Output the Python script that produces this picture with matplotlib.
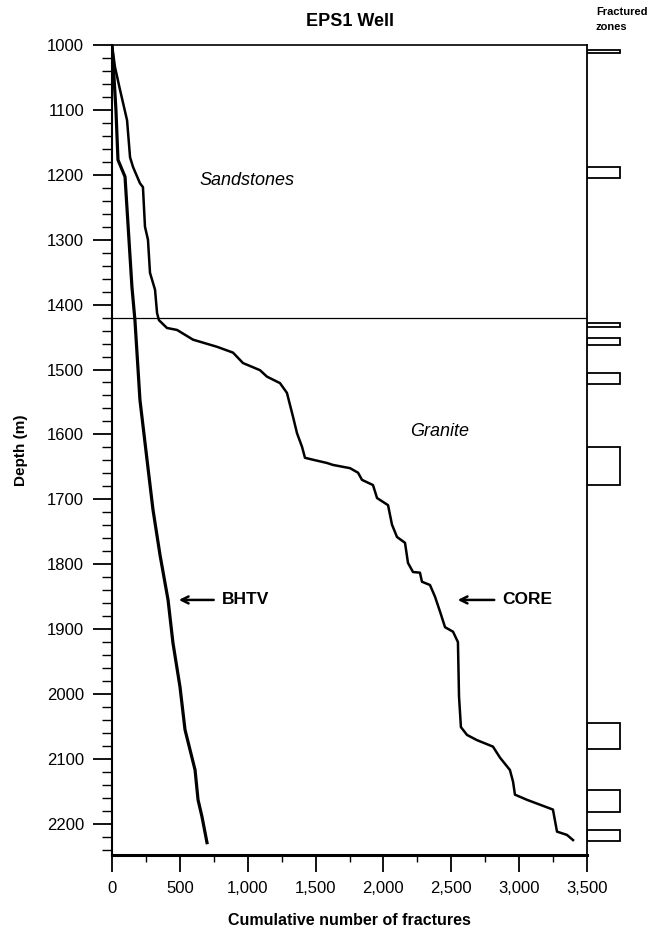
import numpy as np
import matplotlib
matplotlib.use("Agg")
import matplotlib.pyplot as plt
from matplotlib.ticker import MultipleLocator, FuncFormatter

plt.rcParams['font.family'] = ['Liberation Sans', 'DejaVu Sans']

# BHTV cumulative count vs depth
bhtvCount = [0, 7, 29, 44, 96, 110, 147, 169, 206, 258, 302, 354, 413, 449, 501, 538, 612, 634, 663, 700]
bhtvDepth = [1000, 1023, 1100, 1177, 1203, 1250, 1373, 1424, 1547, 1639, 1716, 1786, 1855, 1921, 1989, 2055, 2117, 2163, 2189, 2229]

# CORE cumulative count vs depth
coreCount = [0, 22, 59, 111, 133, 155, 206, 228, 243, 265, 280, 317, 332, 346, 405, 479, 597, 774,
             892, 965, 1090, 1142, 1238, 1289, 1334, 1363, 1400, 1422, 1481, 1584, 1628, 1754, 1813,
             1842, 1923, 1953, 2034, 2063, 2100, 2159, 2181, 2218, 2269, 2284, 2343, 2380, 2417,
             2454, 2513, 2549, 2557, 2571, 2616, 2689, 2807, 2859, 2932, 2955, 2969, 3058, 3249,
             3279, 3352, 3397]
coreDepth = [1000, 1034, 1069, 1116, 1173, 1188, 1213, 1219, 1280, 1300, 1351, 1377, 1413, 1424,
             1436, 1439, 1454, 1465, 1474, 1490, 1501, 1511, 1521, 1536, 1573, 1598, 1619, 1636,
             1639, 1644, 1647, 1652, 1659, 1670, 1678, 1698, 1709, 1739, 1758, 1767, 1798, 1812,
             1813, 1827, 1832, 1850, 1873, 1897, 1904, 1920, 2004, 2051, 2063, 2071, 2081, 2098,
             2117, 2135, 2155, 2163, 2178, 2212, 2217, 2225]

# fractured zones: top and bottom depth
zoneTop = [1008, 1188, 1428, 1451, 1505, 1619, 2044, 2148, 2209]
zoneBottom = [1012, 1205, 1434, 1462, 1522, 1678, 2084, 2181, 2226]

contactDepth = 1420
xTicks = [0, 500, 1000, 1500, 2000, 2500, 3000, 3500]
yTicks = [1000, 1100, 1200, 1300, 1400, 1500, 1600, 1700, 1800, 1900, 2000, 2100, 2200]

fig = plt.figure(figsize=(6.52, 9.4), dpi=100)
ax = fig.add_axes([112/652, 1-855/940, 475/652, 810/940])
axz = fig.add_axes([587/652, 1-855/940, 34/652, 810/940], sharey=ax)

ax.plot(bhtvCount, bhtvDepth, 'k-', lw=2.3, solid_joinstyle='round')
ax.plot(coreCount, coreDepth, 'k-', lw=1.8, solid_joinstyle='round')
ax.axhline(contactDepth, color='k', lw=0.9)

ax.set_xlim(0, 3500)
ax.set_ylim(2248, 1000)
ax.set_xticks(xTicks)
ax.set_yticks(yTicks)
ax.xaxis.set_minor_locator(MultipleLocator(250))
ax.yaxis.set_minor_locator(MultipleLocator(20))
ax.xaxis.set_major_formatter(FuncFormatter(lambda v, p: '{:,.0f}'.format(v)))
ax.tick_params(axis='x', which='major', direction='out', length=12, width=1.3, pad=7, labelsize=12)
ax.tick_params(axis='x', which='minor', direction='out', length=5, width=1.0)
ax.tick_params(axis='y', which='major', direction='out', length=14, width=1.3, pad=6, labelsize=12)
ax.tick_params(axis='y', which='minor', direction='out', length=7, width=1.0)
ax.spines['left'].set_linewidth(1.5)
ax.spines['bottom'].set_linewidth(2.2)
ax.spines['top'].set_linewidth(1.2)
ax.spines['right'].set_linewidth(1.3)

ax.text(995, 1209, 'Sandstones', style='italic', fontsize=13, ha='center', va='center')
ax.text(2417, 1596, 'Granite', style='italic', fontsize=13, ha='center', va='center')

ax.annotate('', xy=(472, 1855), xytext=(770, 1855),
            arrowprops=dict(arrowstyle='->,head_length=0.5,head_width=0.25', lw=1.8, color='k'))
ax.text(810, 1855, 'BHTV', fontsize=12.5, fontweight='bold', ha='left', va='center')
ax.annotate('', xy=(2527, 1855), xytext=(2837, 1855),
            arrowprops=dict(arrowstyle='->,head_length=0.5,head_width=0.25', lw=1.8, color='k'))
ax.text(2873, 1855, 'CORE', fontsize=12.5, fontweight='bold', ha='left', va='center')

ax.set_xlabel('Cumulative number of fractures', fontsize=11.5, fontweight='bold', labelpad=12)
ax.set_ylabel('Depth (m)', fontsize=11, fontweight='bold', labelpad=14)
ax.set_title('EPS1 Well', fontsize=13, fontweight='bold', pad=14)

# fractured zones column
zh = np.array(zoneBottom) - np.array(zoneTop)
axz.barh(zoneTop, width=1, height=zh, left=0, align='edge', fill=False, edgecolor='k', lw=1.3)
axz.set_xlim(0, 1.03)
axz.axis('off')
fig.text(596/652, 1-12/940, 'Fractured', fontsize=8, fontweight='bold', ha='left', va='center')
fig.text(596/652, 1-27/940, 'zones', fontsize=8, fontweight='bold', ha='left', va='center')

fig.savefig('out.png', dpi=100)
